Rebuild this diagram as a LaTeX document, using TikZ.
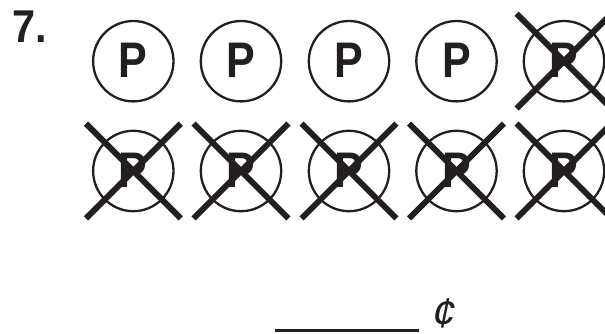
\documentclass[tikz,border=0pt]{standalone}
\usepackage{graphicx}
\usepackage{fontspec}
\setmainfont{Liberation Sans}
\definecolor{ink}{HTML}{231F20}
\tikzset{
  coin/.style={circle,draw=ink,line width=2.3pt,minimum size=80.4pt,inner sep=0pt,text=ink,font=\fontsize{50}{50}\selectfont\bfseries},
  xline/.style={draw=ink,line width=6pt},
  rule/.style={draw=ink,line width=3pt},
  label/.style={inner sep=0pt,text=ink,font=\fontsize{46}{46}\selectfont\bfseries}
}
\begin{document}
\begin{tikzpicture}[x=1pt,y=-1pt]
\useasboundingbox (0,0) rectangle (605,334);
\node[label,anchor=base west] (num) at (12,43) {\scalebox{0.9}[1]{7.}};
\foreach \n/\x/\y in {a1/133.3/61.2,a2/241/61.2,a3/349/61.2,a4/456.5/61.2,a5/564/61.2,b1/133.3/171,b2/241/171,b3/349/171,b4/456.5/171,b5/564/171}{
  \node[coin] (\n) at (\x,\y) {\raisebox{1.5pt}{\scalebox{0.86}[1]{P}}};
  \coordinate (\n nw) at (\x-47.4,\y-47.4);
  \coordinate (\n ne) at (\x+47.4,\y-47.4);
  \coordinate (\n sw) at (\x-47.4,\y+47.4);
  \coordinate (\n se) at (\x+47.4,\y+47.4);
}
\foreach \n in {a5,b1,b2,b3,b4,b5}{
  \draw[xline] (\n nw) -- (\n se);
  \draw[xline] (\n ne) -- (\n sw);
}
\coordinate (ruleL) at (275,330);
\coordinate (ruleR) at (419,330);
\draw[rule] (ruleL) -- (ruleR);
\node[inner sep=0pt,text=ink,xslant=0.2,font=\fontsize{42}{42}\selectfont,anchor=base] (cent) at (442,327) {¢};
\end{tikzpicture}
\end{document}
